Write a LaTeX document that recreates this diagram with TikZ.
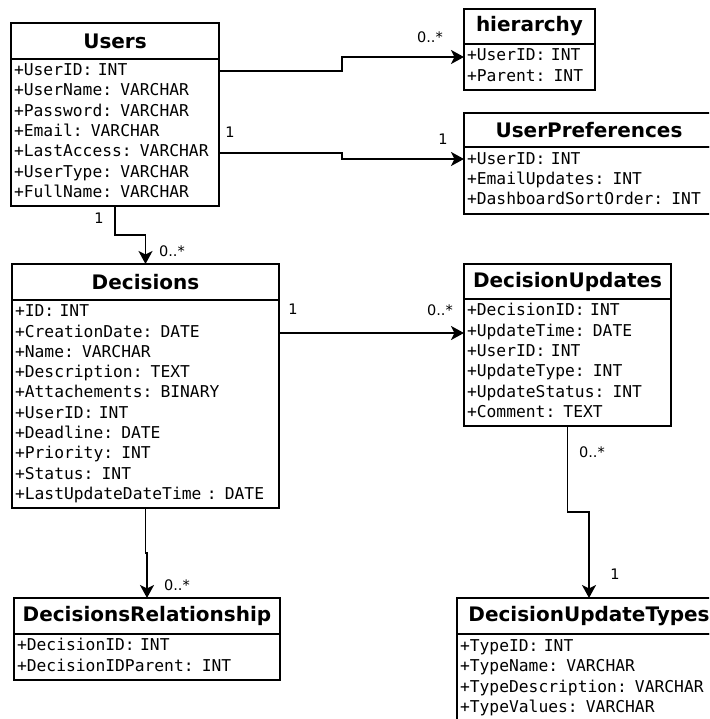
\documentclass[tikz,border=0pt]{standalone}
\usepackage{fontspec}
\setmainfont{DejaVu Sans}
\setmonofont{DejaVu Sans Mono}[WordSpace={1,0,0}]
\usetikzlibrary{positioning,arrows.meta}

\tikzset{
	classname/.style={draw, line width=2pt, minimum height=36pt, inner sep=0pt, outer sep=0pt,
		anchor=north west, font=\fontsize{20}{24}\selectfont\bfseries},
	attrs/.style={draw, line width=2pt, inner xsep=3pt, inner ysep=0pt, outer sep=0pt, align=left,
		font=\fontsize{16.3}{20.3}\selectfont\ttfamily,
		execute at begin node=\strut, execute at end node=\strut},
	assoc/.style={line width=1.8pt, -{Stealth[length=13pt,width=14pt,inset=3.5pt]}},
	mult/.style={font=\fontsize{14.5}{16}\selectfont, inner sep=0pt}
}

\begin{document}
\begin{tikzpicture}[x=1pt, y=-1pt, line join=miter]
	\path[use as bounding box] (0,0) rectangle (709,719);
	\clip (0,0) rectangle (709,719);
	% classes
	\node[classname, minimum width=208pt] (users) at (11,23) {Users};
	\node[attrs, below=0pt of users, text width=202pt, minimum height=147pt] (usersb)
	{+UserID: INT\\+UserName: VARCHAR\\+Password: VARCHAR\\+Email: VARCHAR\\
		+LastAccess: VARCHAR\\+UserType: VARCHAR\\+FullName: VARCHAR};
	\node[classname, minimum width=131pt, minimum height=35pt] (hier) at (464,9) {hierarchy};
	\node[attrs, below=0pt of hier, text width=125pt, minimum height=46pt] (hierb)
	{+UserID: INT\\+Parent: INT};
	\node[classname, minimum width=250pt, minimum height=34pt] (prefs) at (464,113) {UserPreferences};
	\node[attrs, below=0pt of prefs, text width=244pt, minimum height=67pt] (prefsb)
	{+UserID: INT\\+EmailUpdates: INT\\+DashboardSortOrder: INT};
	\node[classname, minimum width=267pt] (dec) at (12,264) {Decisions};
	\node[attrs, below=0pt of dec, text width=261pt, minimum height=208pt] (decb)
	{+ID: INT\\+CreationDate: DATE\\+Name: VARCHAR\\+Description: TEXT\\
		+Attachements: BINARY\\+UserID: INT\\+Deadline: DATE\\+Priority: INT\\
		+Status: INT\\+LastUpdateDateTime : DATE};
	\node[classname, minimum width=207pt, minimum height=35pt] (upd) at (464,264) {DecisionUpdates};
	\node[attrs, below=0pt of upd, text width=201pt, minimum height=127pt] (updb)
	{+DecisionID: INT\\+UpdateTime: DATE\\+UserID: INT\\+UpdateType: INT\\
		+UpdateStatus: INT\\+Comment: TEXT};
	\node[classname, minimum width=266pt] (rel) at (14,598) {DecisionsRelationship};
	\node[attrs, below=0pt of rel, text width=260pt, minimum height=46pt] (relb)
	{+DecisionID: INT\\+DecisionIDParent: INT};
	\node[classname, minimum width=264pt] (types) at (457,598) {DecisionUpdateTypes};
	\node[attrs, below=0pt of types, text width=258pt, minimum height=88pt] (typesb)
	{+TypeID: INT\\+TypeName: VARCHAR\\+TypeDescription: VARCHAR\\+TypeValues: VARCHAR};
	% associations
	\draw[assoc] ([yshift=-12pt]usersb.north east) -- ++(123,0) |- ([yshift=-13pt]hierb.north west);
	\draw[assoc] ([yshift=-94pt]usersb.north east) -- ++(123,0) |- ([yshift=-12pt]prefsb.north west);
	\draw[assoc] (usersb.south) -- ++(0,29) -| (dec.north);
	\coordinate (dlink) at ([yshift=-33pt]decb.north east);
	\draw[assoc] (dlink) -- (dlink -| updb.west);
	\draw[assoc] (decb.south) -- ++(0,45) -| (rel.north);
	\draw[assoc] (updb.south) -- ++(0,86) -| (types.north);
	% multiplicities
	\node[mult] (m1) at (430,37) {0..*};
	\node[mult] (m2) at (230,132) {1};
	\node[mult] (m3) at (443,139) {1};
	\node[mult] (m4) at (99,218) {1};
	\node[mult] (m5) at (172,251) {0..*};
	\node[mult] (m6) at (293,309) {1};
	\node[mult] (m7) at (440,310) {0..*};
	\node[mult] (m8) at (592,452) {0..*};
	\node[mult] (m9) at (615,574) {1};
	\node[mult] (m10) at (177,585) {0..*};
\end{tikzpicture}
\end{document}
